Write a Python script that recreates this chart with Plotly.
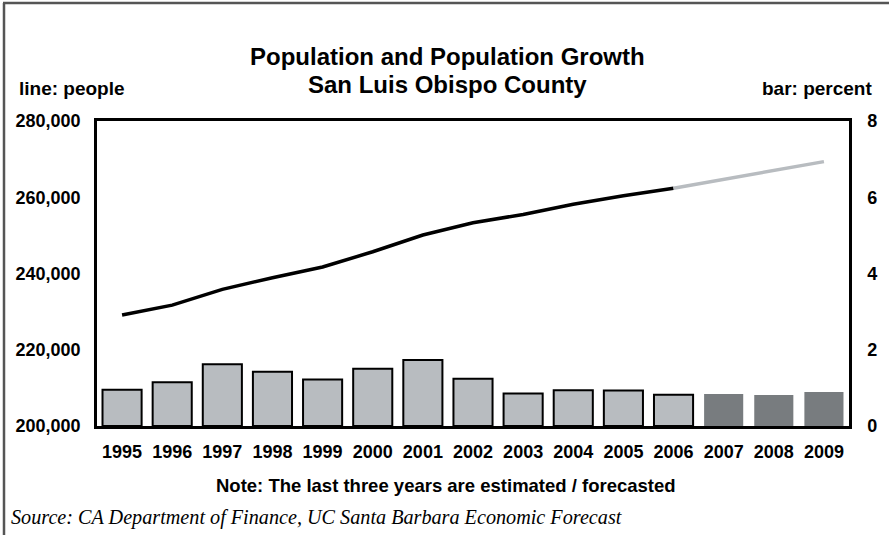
import plotly.graph_objects as go

years = [str(y) for y in range(1995, 2010)]
population = [229100, 231700, 235850, 238900, 241700, 245700, 250100, 253300,
              255500, 258150, 260400, 262350, 264700, 267100, 269350]
growth = [0.95, 1.15, 1.62, 1.42, 1.22, 1.50, 1.73, 1.24,
          0.85, 0.94, 0.93, 0.82, 0.84, 0.81, 0.89]
n_actual = 12  # 1995-2006 actual, last three estimated / forecasted

left_ticks = [200000, 220000, 240000, 260000, 280000]
right_ticks = [0, 2, 4, 6, 8]

W, H = 889, 535
L, R, T, B = 97, 849, 121, 426

def px(x):
    return (x - L) / (R - L)

def py(y):
    return (B - y) / (B - T)

SANS = "Liberation Sans, Arial, Helvetica, sans-serif"
SERIF = "Liberation Serif, Times New Roman, serif"

fig = go.Figure()

fig.add_trace(go.Bar(
    x=years[:n_actual], y=growth[:n_actual], yaxis="y2",
    marker=dict(color="#b8bcc0", line=dict(color="black", width=2)),
    showlegend=False, hoverinfo="x+y"))
fig.add_trace(go.Bar(
    x=years[n_actual:], y=growth[n_actual:], yaxis="y2",
    marker=dict(color="#787c7f", line=dict(width=0)),
    showlegend=False, hoverinfo="x+y"))

fig.add_trace(go.Scatter(
    x=years[:n_actual], y=population[:n_actual], mode="lines",
    line=dict(color="black", width=3.5), showlegend=False))
fig.add_trace(go.Scatter(
    x=years[n_actual - 1:], y=population[n_actual - 1:], mode="lines",
    line=dict(color="#b8bcc0", width=3.5), showlegend=False))

fig.update_layout(
    width=W, height=H,
    margin=dict(l=L, r=W - R, t=T, b=H - B, pad=0),
    paper_bgcolor="white", plot_bgcolor="white",
    barmode="overlay", bargap=0.22,
    font=dict(family=SANS, color="black"),
    xaxis=dict(type="category", categoryorder="array", categoryarray=years,
               range=[-0.5, 14.5], showgrid=False, ticks="",
               showline=True, linecolor="black", linewidth=2.5, mirror=True,
               tickfont=dict(family=SANS, size=18, color="black", weight="bold"),
               ticklabelstandoff=8),
    yaxis=dict(range=[200000, 280000], tickvals=left_ticks, tickformat=",",
               showgrid=False, ticks="", zeroline=False,
               showline=True, linecolor="black", linewidth=2.5, mirror=True,
               tickfont=dict(family=SANS, size=18, color="black", weight="bold"),
               ticklabelstandoff=10),
    yaxis2=dict(range=[0, 8], tickvals=right_ticks, overlaying="y", side="right",
                showgrid=False, ticks="", zeroline=False,
                showline=True, linecolor="black", linewidth=2.5,
                tickfont=dict(family=SANS, size=18, color="black", weight="bold"),
                ticklabelstandoff=12),
)

ann = [
    dict(text="<b>Population and Population Growth</b>", x=px(447),
         y=py(56), font=dict(size=24)),
    dict(text="<b>San Luis Obispo County</b>", x=px(447),
         y=py(85), font=dict(size=24)),
    dict(text="<b>line: people</b>", x=px(17), y=py(88), xanchor="left",
         font=dict(size=19)),
    dict(text="<b>bar: percent</b>", x=px(874), y=py(88), xanchor="right",
         font=dict(size=19)),
    dict(text="<b>Note: The last three years are estimated / forecasted</b>",
         x=px(446), y=py(485), font=dict(size=18.5)),
    dict(text="<i>Source: CA Department of Finance, UC Santa Barbara Economic Forecast</i>",
         x=px(9), y=py(517), xanchor="left",
         font=dict(size=20.2, family=SERIF)),
]
for a in ann:
    a["xref"] = "paper"
    a["yref"] = "paper"
    a.setdefault("xanchor", "center")
    a["yanchor"] = "middle"
    a["showarrow"] = False
    a["font"].setdefault("family", SANS)
    a["font"]["color"] = "black"
fig.update_layout(annotations=ann)

fig.update_layout(shapes=[
    dict(type="line", xref="paper", yref="paper",
         x0=px(4), x1=px(4), y0=py(3), y1=py(540),
         line=dict(color="#555555", width=2.5)),
    dict(type="line", xref="paper", yref="paper",
         x0=px(3), x1=px(895), y0=py(3), y1=py(3),
         line=dict(color="#555555", width=2.5)),
])

fig.write_html(
    "out.html",
    config={"displayModeBar": False},
    post_script="document.body.style.margin='0';document.body.style.overflow='hidden';",
)
